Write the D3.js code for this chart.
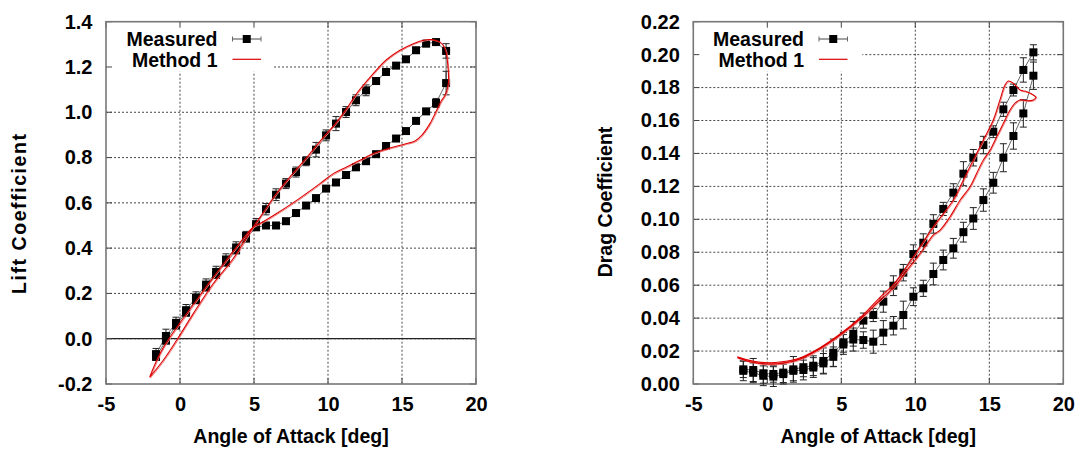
<!DOCTYPE html>
<html><head><meta charset="utf-8">
<script src="https://cdn.jsdelivr.net/npm/d3@7"></script>
<style>
html,body{margin:0;padding:0;background:#fff;}
svg{display:block;}
text{font-family:"Liberation Sans",Arial,Helvetica,sans-serif;font-weight:bold;fill:#000;}
</style></head>
<body>
<svg id="chart" width="1083" height="453"></svg>
<script>
// ---------- DATA ----------
const xTicks = [-5, 0, 5, 10, 15, 20];
const liftTicks = [-0.2, 0.0, 0.2, 0.4, 0.6, 0.8, 1.0, 1.2, 1.4];
const dragTicks = [0.00, 0.02, 0.04, 0.06, 0.08, 0.10, 0.12, 0.14, 0.16, 0.18, 0.20, 0.22];
const seriesNames = ["Measured", "Method 1"];
const xTitle = "Angle of Attack [deg]";
const liftTitle = "Lift Coefficient";
const dragTitle = "Drag Coefficient";

// measured angle bins (upstroke, increasing)
const aoaUp = [-1.62,-0.95,-0.27,0.41,1.08,1.76,2.44,3.11,3.79,4.46,5.14,5.81,6.49,7.16,7.84,8.52,9.19,9.87,10.54,11.22,11.89,12.57,13.25,13.92,14.60,15.27,15.95,16.63,17.30,17.98];
// downstroke, decreasing
const aoaDown = [17.98,17.30,16.63,15.95,15.27,14.60,13.92,13.25,12.57,11.89,11.22,10.54,9.87,9.19,8.52,7.84,7.16,6.49,5.81,5.14,4.46,3.79,3.11,2.44,1.76,1.08,0.41,-0.27,-0.95,-1.62];

const liftUp = [-0.068,0.012,0.070,0.126,0.182,0.239,0.295,0.350,0.403,0.454,0.506,0.572,0.636,0.685,0.736,0.784,0.835,0.898,0.950,1.001,1.053,1.097,1.138,1.178,1.206,1.234,1.274,1.303,1.310,1.271];
const liftUpErr = [0.025,0.03,0.025,0.025,0.025,0.025,0.025,0.025,0.025,0.02,0.025,0.025,0.026,0.022,0.022,0.02,0.032,0.024,0.031,0.024,0.024,0.024,0.015,0.012,0.012,0.012,0.012,0.012,0.012,0.032];
const liftDown = [1.129,1.041,1.004,0.962,0.917,0.884,0.851,0.815,0.784,0.757,0.723,0.690,0.663,0.621,0.588,0.555,0.519,0.500,0.500,0.492,0.442,0.390,0.336,0.282,0.226,0.170,0.115,0.058,-0.008,-0.080];
const liftDownErr = [0.052,0.02,0.012,0.012,0.012,0.012,0.012,0.012,0.012,0.012,0.012,0.012,0.012,0.012,0.012,0.012,0.012,0.012,0.012,0.012,0.012,0.012,0.012,0.012,0.012,0.012,0.012,0.012,0.015,0.015];

const dragUp = [0.0089,0.0085,0.0065,0.0061,0.0069,0.0089,0.0102,0.0111,0.0140,0.0190,0.0253,0.0305,0.0385,0.0419,0.0500,0.0597,0.0676,0.0789,0.0858,0.0972,0.1063,0.1162,0.1277,0.1374,0.1451,0.1532,0.1668,0.1785,0.1907,0.2014];
const dragUpErr = [0.005,0.007,0.006,0.005,0.006,0.0078,0.0058,0.006,0.0079,0.0083,0.006,0.0075,0.0046,0.004,0.0064,0.006,0.005,0.0056,0.0054,0.0056,0.004,0.0054,0.0073,0.005,0.0053,0.0036,0.0043,0.0036,0.0074,0.0046];
const dragDown = [0.1872,0.1643,0.1506,0.1374,0.1222,0.1117,0.1005,0.0922,0.0824,0.0753,0.0668,0.0581,0.0530,0.0419,0.0354,0.0312,0.0257,0.0267,0.0270,0.0240,0.0165,0.0125,0.0100,0.0085,0.0080,0.0060,0.0045,0.0050,0.0068,0.0080];
const dragDownErr = [0.0083,0.0083,0.008,0.0085,0.0063,0.0068,0.0066,0.006,0.006,0.006,0.0066,0.0049,0.0054,0.0084,0.0056,0.0073,0.007,0.005,0.007,0.006,0.006,0.006,0.006,0.006,0.006,0.006,0.006,0.006,0.006,0.006];

// Method 1 (simulated loop), traced in drawing order
const liftM1Aoa = [-2.05,-1.13,-0.23,0.9,2.25,3.6,4.95,5.5,6.5,7.5,8.5,9.5,10.5,11.26,11.94,13.06,13.97,14.86,15.76,16.44,17.01,17.57,17.91,18.06,18.13,17.91,17.68,17.34,16.89,16.33,15.88,15.32,14.64,13.97,13.06,12.16,11.26,10.36,9.46,7.88,6.53,5.41,4.95,4.0,3.0,2.0,1.0,0.0,-1.0,-1.5,-2.05];
const liftM1 = [-0.17,-0.095,-0.007,0.111,0.244,0.354,0.494,0.545,0.64,0.72,0.795,0.875,0.95,1.016,1.083,1.171,1.233,1.274,1.303,1.318,1.321,1.310,1.281,1.230,1.127,1.075,1.053,1.009,0.950,0.898,0.873,0.862,0.850,0.838,0.818,0.788,0.758,0.729,0.685,0.611,0.553,0.509,0.494,0.42,0.335,0.25,0.16,0.07,-0.025,-0.085,-0.17];

const dragM1Aoa = [-2.03,-1.0,0.0,1.0,2.24,3.59,4.94,6.29,7.63,8.53,9.43,10.33,11.23,11.9,12.57,13.25,13.92,14.6,15.27,15.72,16.06,16.29,16.63,17.08,17.53,17.98,18.16,17.98,17.53,17.08,16.74,16.4,15.95,15.5,15.05,14.6,14.15,13.7,13.03,12.35,11.68,11.23,10.33,9.43,8.53,7.63,6.29,4.94,3.59,2.24,1.0,0.0,-1.0,-2.03];
const dragM1 = [0.0166,0.0140,0.0129,0.0135,0.0160,0.0222,0.0305,0.0405,0.0528,0.0605,0.0715,0.0834,0.0956,0.1035,0.1117,0.1239,0.1360,0.1482,0.1603,0.1725,0.1816,0.1840,0.1826,0.1785,0.1775,0.1755,0.1741,0.1725,0.1720,0.1725,0.1705,0.1664,0.1583,0.1502,0.1420,0.1360,0.1280,0.1198,0.1117,0.1016,0.0935,0.0905,0.0793,0.0690,0.0585,0.0510,0.0395,0.0298,0.0215,0.0152,0.0125,0.0121,0.0132,0.0160];

// ---------- DRAWING ----------
const svg = d3.select("#chart");
const FRAME_Y0 = 21.7, FRAME_Y1 = 384;

function panel(opts) {
  const g = svg.append("g");
  const x = d3.scaleLinear().domain([-5, 20]).range([opts.x0, opts.x1]);
  const y = d3.scaleLinear().domain(opts.yDomain).range([FRAME_Y1, FRAME_Y0]);

  // grid
  const gridX = xTicks.filter(v => v > -5 && v < 20);
  const gridY = opts.yTicks.slice(1, -1);
  g.selectAll(".gx").data(gridX).enter().append("line")
    .attr("x1", d => x(d)).attr("x2", d => x(d))
    .attr("y1", FRAME_Y0).attr("y2", FRAME_Y1)
    .attr("stroke", "#333").attr("stroke-width", 0.9).attr("stroke-dasharray", "2,2");
  g.selectAll(".gy").data(gridY).enter().append("line")
    .attr("x1", opts.x0).attr("x2", opts.x1)
    .attr("y1", d => y(d)).attr("y2", d => y(d))
    .attr("stroke", "#333").attr("stroke-width", 0.9).attr("stroke-dasharray", "2,2");

  // zero axis
  if (opts.zeroLine) {
    g.append("line").attr("x1", opts.x0).attr("x2", opts.x1)
      .attr("y1", y(0)).attr("y2", y(0)).attr("stroke", "#222").attr("stroke-width", 1.3);
  }

  // key box (opaque)
  g.append("rect").attr("x", opts.x0 + 1).attr("y", FRAME_Y0 + 1)
    .attr("width", opts.keyW).attr("height", 49).attr("fill", "#fff");

  // ticks (inward, mirrored)
  const tk = 6;
  xTicks.forEach(v => {
    g.append("line").attr("x1", x(v)).attr("x2", x(v)).attr("y1", FRAME_Y1).attr("y2", FRAME_Y1 - tk).attr("stroke", "#444");
    g.append("line").attr("x1", x(v)).attr("x2", x(v)).attr("y1", FRAME_Y0).attr("y2", FRAME_Y0 + tk).attr("stroke", "#444");
  });
  opts.yTicks.forEach(v => {
    g.append("line").attr("x1", opts.x0).attr("x2", opts.x0 + tk).attr("y1", y(v)).attr("y2", y(v)).attr("stroke", "#444");
    g.append("line").attr("x1", opts.x1).attr("x2", opts.x1 - tk).attr("y1", y(v)).attr("y2", y(v)).attr("stroke", "#444");
  });

  // axes labels via d3 axes
  const ax = g.append("g").attr("transform", `translate(0,${FRAME_Y1})`)
    .call(d3.axisBottom(x).tickValues(xTicks).tickFormat(d => String(d)).tickSize(0).tickPadding(12.5));
  const ay = g.append("g").attr("transform", `translate(${opts.x0},0)`)
    .call(d3.axisLeft(y).tickValues(opts.yTicks).tickFormat(d => d.toFixed(opts.dec)).tickSize(0).tickPadding(13.5));
  [ax, ay].forEach(a => {
    a.select(".domain").remove();
    a.selectAll("text").attr("font-size", 20).attr("font-family", '"Liberation Sans",Arial,sans-serif')
      .attr("font-weight", "bold").attr("fill", "#000");
  });

  // frame
  g.append("rect").attr("x", opts.x0).attr("y", FRAME_Y0)
    .attr("width", opts.x1 - opts.x0).attr("height", FRAME_Y1 - FRAME_Y0)
    .attr("fill", "none").attr("stroke", "#777").attr("stroke-width", 1.6);

  // titles
  g.append("text").attr("x", (opts.x0 + opts.x1) / 2).attr("y", 443.3)
    .attr("text-anchor", "middle").attr("font-size", 19.5).text(xTitle);
  const yt = g.append("text")
    .attr("transform", `translate(${opts.yTitleX},${opts.yTitleY}) rotate(-90)`)
    .attr("text-anchor", "middle").attr("font-size", 19.5).text(opts.yTitle);
  if (opts.yTitleLen) yt.attr("textLength", opts.yTitleLen).attr("lengthAdjust", "spacing");

  // measured: line + error bars + markers
  const pts = aoaUp.map((a, i) => ({a, v: opts.up[i], e: opts.upErr[i]}))
    .concat(aoaDown.map((a, i) => ({a, v: opts.down[i], e: opts.downErr[i]})));
  const line = d3.line().x(d => x(d.a)).y(d => y(d.v));
  g.append("path").attr("d", line(pts)).attr("fill", "none")
    .attr("stroke", "#666").attr("stroke-width", 1);
  const cap = 3.5;
  const eb = g.append("g").attr("stroke", "#222").attr("stroke-width", 1);
  pts.forEach(p => {
    const cx = x(p.a), ya = y(p.v - p.e), yb = y(p.v + p.e);
    eb.append("line").attr("x1", cx).attr("x2", cx).attr("y1", ya).attr("y2", yb);
    eb.append("line").attr("x1", cx - cap).attr("x2", cx + cap).attr("y1", ya).attr("y2", ya);
    eb.append("line").attr("x1", cx - cap).attr("x2", cx + cap).attr("y1", yb).attr("y2", yb);
  });
  g.selectAll(".mk").data(pts).enter().append("rect")
    .attr("x", d => x(d.a) - 4).attr("y", d => y(d.v) - 4)
    .attr("width", 8).attr("height", 8).attr("fill", "#000");

  // Method 1
  const m1 = opts.m1Aoa.map((a, i) => ({a, v: opts.m1[i]}));
  const rl = d3.line().x(d => x(d.a)).y(d => y(d.v)).curve(d3.curveCatmullRom.alpha(0.5));
  g.append("path").attr("d", rl(m1)).attr("fill", "none")
    .attr("stroke", "#f08080").attr("stroke-width", 1).attr("transform", "translate(0.8,0.8)");
  g.append("path").attr("d", rl(m1)).attr("fill", "none")
    .attr("stroke", "#dd0000").attr("stroke-width", 1.1);

  // legend
  const lx = opts.keyTextX;
  g.append("text").attr("x", lx).attr("y", 45.5).attr("text-anchor", "end").attr("font-size", 19.5).text(seriesNames[0]);
  g.append("text").attr("x", lx).attr("y", 66.5).attr("text-anchor", "end").attr("font-size", 19.5).text(seriesNames[1]);
  const s0 = lx + 15, s1 = lx + 43.5, sm = (s0 + s1) / 2;
  g.append("line").attr("x1", s0).attr("x2", s1).attr("y1", 39).attr("y2", 39).attr("stroke", "#666").attr("stroke-width", 1.2);
  g.append("line").attr("x1", s0).attr("x2", s0).attr("y1", 36.5).attr("y2", 41.5).attr("stroke", "#666");
  g.append("line").attr("x1", s1).attr("x2", s1).attr("y1", 36.5).attr("y2", 41.5).attr("stroke", "#666");
  g.append("rect").attr("x", sm - 4).attr("y", 35).attr("width", 8).attr("height", 8).attr("fill", "#000");
  g.append("line").attr("x1", s0).attr("x2", s1).attr("y1", 59.3).attr("y2", 59.3).attr("stroke", "#dd0000").attr("stroke-width", 1.2);
}

panel({x0: 106, x1: 476, yDomain: [-0.2, 1.4], yTicks: liftTicks, dec: 1, zeroLine: true,
  keyW: 166, keyTextX: 217.5, yTitle: liftTitle, yTitleX: 26, yTitleY: 214, yTitleLen: 160,
  up: liftUp, upErr: liftUpErr, down: liftDown, downErr: liftDownErr, m1Aoa: liftM1Aoa, m1: liftM1});

panel({x0: 693.3, x1: 1063.3, yDomain: [0, 0.22], yTicks: dragTicks, dec: 2, zeroLine: false,
  keyW: 168, keyTextX: 804, yTitle: dragTitle, yTitleX: 612, yTitleY: 202, yTitleLen: null,
  up: dragUp, upErr: dragUpErr, down: dragDown, downErr: dragDownErr, m1Aoa: dragM1Aoa, m1: dragM1});
</script>
</body></html>
